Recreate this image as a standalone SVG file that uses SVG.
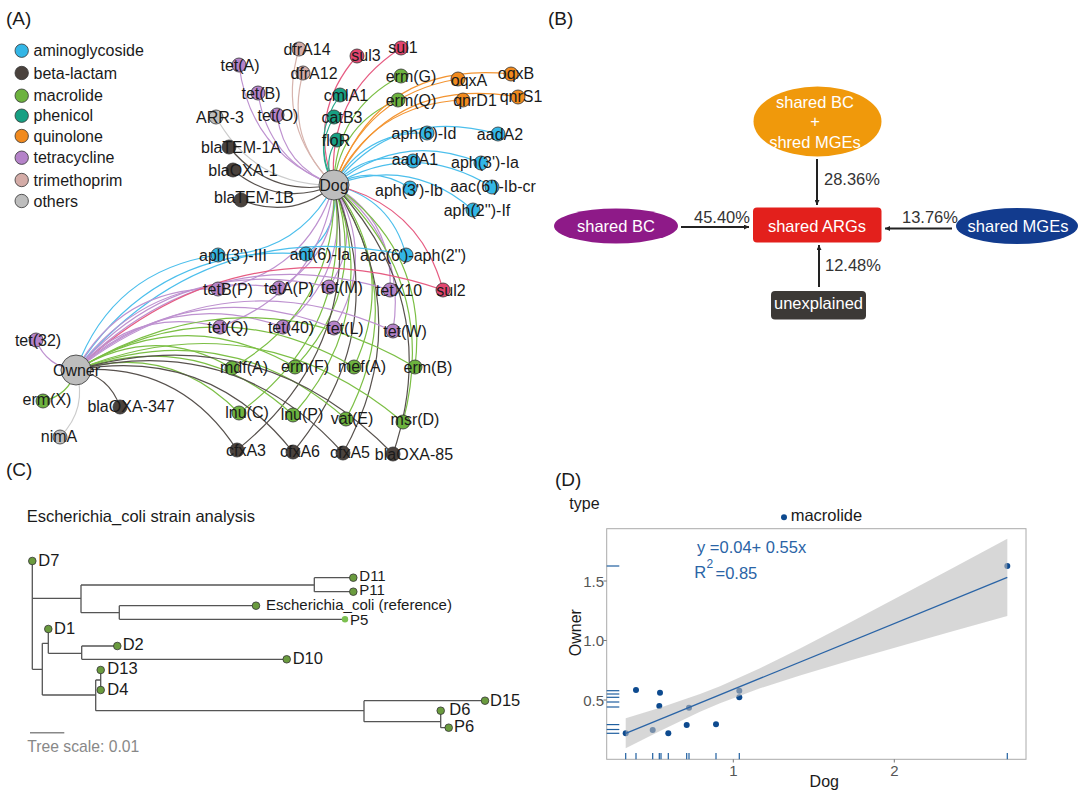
<svg xmlns="http://www.w3.org/2000/svg" width="1080" height="794" viewBox="0 0 1080 794">
<defs>
<style>
text{font-family:"Liberation Sans",Arial,sans-serif;fill:#1a1a1a}
.pl{font-size:19px}
.lg{font-size:16px}
.nl{font-size:16px;text-anchor:middle}
.hub{font-size:16px;text-anchor:middle}
.e{fill:none;stroke-width:1.2}
.am{stroke:#4cbfec}.be{stroke:#57514d}.ma{stroke:#7cbf45}.ph{stroke:#2aa98c}.qu{stroke:#f39431}.te{stroke:#be92d0}.tm{stroke:#d7b4ae}.ot{stroke:#cccccc}.su{stroke:#e65c82}
.n{stroke:#333;stroke-width:0.8}
.fam{fill:#33b6e6}.fbe{fill:#4a423d}.fma{fill:#6db33f}.fph{fill:#17a083}.fqu{fill:#f18a1e}.fte{fill:#b583c9}.ftm{fill:#d4aca7}.fot{fill:#bdbdbd}.fsu{fill:#e2466f}
.bw{fill:#fff;font-size:16.5px;text-anchor:middle}
.pct{font-size:16.5px;fill:#333}
.bl{stroke:#222;stroke-width:2;fill:none}
.tr{fill:none;stroke:#555;stroke-width:1.3}
.tn{fill:#6a9b3e;stroke:#333;stroke-width:0.8}
.tl{font-size:16.5px}
.ts{font-size:15px}
.ax{font-size:15px;fill:#555}
.rug{stroke:#1f5fa0;stroke-width:1.2}
.pt{fill:#0d4a8f}
</style>
<marker id="arr" viewBox="0 0 6 6" refX="6" refY="3" markerWidth="5" markerHeight="5" markerUnits="userSpaceOnUse" orient="auto"><path d="M0,0 L6,3 L0,6 z" fill="#222"/></marker>
</defs>
<rect width="1080" height="794" fill="#fff"/>

<!-- Panel labels -->
<text class="pl" x="6" y="25">(A)</text>
<text class="pl" x="548" y="25">(B)</text>
<text class="pl" x="6" y="476">(C)</text>
<text class="pl" x="555" y="486">(D)</text>

<!-- Legend -->
<g id="legend">
<circle class="n fam" cx="21.7" cy="50.7" r="6.7"/><text class="lg" x="33.5" y="56.2">aminoglycoside</text>
<circle class="n fbe" cx="21.7" cy="73" r="6.7"/><text class="lg" x="33.5" y="78.5">beta-lactam</text>
<circle class="n fma" cx="21.7" cy="95.7" r="6.7"/><text class="lg" x="33.5" y="101.2">macrolide</text>
<circle class="n fph" cx="21.7" cy="115.7" r="6.7"/><text class="lg" x="33.5" y="121.2">phenicol</text>
<circle class="n fqu" cx="21.7" cy="136" r="6.7"/><text class="lg" x="33.5" y="141.5">quinolone</text>
<circle class="n fte" cx="21.7" cy="157.7" r="6.7"/><text class="lg" x="33.5" y="163.2">tetracycline</text>
<circle class="n ftm" cx="21.7" cy="180" r="6.7"/><text class="lg" x="33.5" y="185.5">trimethoprim</text>
<circle class="n fot" cx="21.7" cy="201" r="6.7"/><text class="lg" x="33.5" y="206.5">others</text>
</g>

<!-- Network connectors -->
<g id="connectors">
<path class="e te" d="M334 185 Q250.5 153.5 239 65"/>
<path class="e te" d="M334 185 Q268.4 161.8 258 93"/>
<path class="e te" d="M334 185 Q284.5 167.1 277 115"/>
<path class="e ot" d="M334 185 Q254.6 186.4 216 117"/>
<path class="e tm" d="M334 185 Q275.7 127.5 299 49"/>
<path class="e tm" d="M334 185 Q284.9 138.3 303 73"/>
<path class="e su" d="M334 185 Q306.8 113.6 357 56"/>
<path class="e su" d="M334 185 Q326.4 96.4 401 48"/>
<path class="e ph" d="M334 185 Q310 138.2 340 95"/>
<path class="e ph" d="M334 185 Q313.6 151 334 117"/>
<path class="e ph" d="M334 185 Q322 161.6 337 140"/>
<path class="e be" d="M334 185 Q270.1 197.5 229 147"/>
<path class="e be" d="M334 185 Q279 207.8 233 170"/>
<path class="e be" d="M334 185 Q292 220.4 241 200"/>
<path class="e ma" d="M334 185 Q334.8 110.4 401 76"/>
<path class="e ma" d="M334 185 Q340.5 123.3 398 100"/>
<path class="e qu" d="M334 185 Q364.2 94.8 458 79"/>
<path class="e qu" d="M334 185 Q378 60 511 74"/>
<path class="e qu" d="M334 185 Q373 103.8 463 100"/>
<path class="e qu" d="M334 185 Q392 75 518 97"/>
<path class="e am" d="M334 185 Q364.9 131.1 427 133"/>
<path class="e am" d="M334 185 Q395 105 498 134"/>
<path class="e am" d="M334 185 Q366.3 149.3 413 161"/>
<path class="e am" d="M334 185 Q400.9 129.9 481 163"/>
<path class="e am" d="M334 185 Q372.9 163.7 410 188"/>
<path class="e am" d="M334 185 Q413.6 138.6 492 187"/>
<path class="e am" d="M334 185 Q411 155.8 473 210"/>
<!-- Dog to lower cluster -->
<path class="e am" d="M334 185 Q297 254.8 218 255"/>
<path class="e am" d="M334 185 Q340.7 227.9 306 254"/>
<path class="e am" d="M334 185 Q391 198.4 406 255"/>
<path class="e te" d="M334 185 Q307.2 271.8 218 289"/>
<path class="e te" d="M334 185 Q337.4 253 279 288"/>
<path class="e te" d="M334 185 Q362.1 237.5 329 287"/>
<path class="e te" d="M334 185 Q393.5 220.7 390 290"/>
<path class="e su" d="M334 185 Q420 204.8 443 290"/>
<path class="e te" d="M334 185 Q319.6 290.2 220 327"/>
<path class="e te" d="M334 185 Q351.1 271.3 283 327"/>
<path class="e te" d="M334 185 Q376.9 256.5 334 328"/>
<path class="e te" d="M334 185 Q407.3 240.3 393 331"/>
<path class="e ma" d="M334 185 Q337.9 307.1 232 368"/>
<path class="e ma" d="M334 185 Q369.1 287.7 295 367"/>
<path class="e ma" d="M334 185 Q398.6 270 354 367"/>
<path class="e ma" d="M334 185 Q429.1 251.7 415 367"/>
<path class="e ma" d="M334 185 Q354.9 327.5 239 413"/>
<path class="e ma" d="M334 185 Q382.5 312.3 293 415"/>
<path class="e ma" d="M334 185 Q410.2 298.4 346 419"/>
<path class="e ma" d="M334 185 Q439.6 282.8 403 422"/>
<path class="e be" d="M334 185 Q365 346.6 237 450"/>
<path class="e be" d="M334 185 Q393.6 330.8 293 452"/>
<path class="e be" d="M334 185 Q418.9 316.3 343 453"/>
<path class="e be" d="M334 185 Q444.2 301.8 393 454"/>
<!-- Owner edges -->
<path class="e am" d="M76 370 Q112.5 269.9 218 255"/>
<path class="e am" d="M76 370 Q156.2 243 306 254"/>
<path class="e am" d="M76 370 Q206.5 213.5 406 255"/>
<path class="e te" d="M76 370 Q122.7 286.9 218 289"/>
<path class="e te" d="M76 370 Q152.9 268.1 279 288"/>
<path class="e te" d="M76 370 Q177.6 252.6 329 287"/>
<path class="e te" d="M76 370 Q209 235.8 390 290"/>
<path class="e su" d="M76 370 Q235.5 219.9 443 290"/>
<path class="e te" d="M76 370 Q135.1 305.3 220 327"/>
<path class="e te" d="M76 370 Q166.6 286.4 283 327"/>
<path class="e te" d="M76 370 Q192.4 271.6 334 328"/>
<path class="e te" d="M76 370 Q222.8 255.4 393 331"/>
<path class="e ma" d="M76 370 Q153.4 322.2 232 368"/>
<path class="e ma" d="M76 370 Q184.6 302.8 295 367"/>
<path class="e ma" d="M76 370 Q214.1 285.1 354 367"/>
<path class="e ma" d="M76 370 Q244.6 266.8 415 367"/>
<path class="e ma" d="M76 370 Q170.4 342.6 239 413"/>
<path class="e ma" d="M76 370 Q198 327.4 293 415"/>
<path class="e ma" d="M76 370 Q225.7 313.5 346 419"/>
<path class="e ma" d="M76 370 Q255.1 297.9 403 422"/>
<path class="e be" d="M76 370 Q180.5 361.7 237 450"/>
<path class="e be" d="M76 370 Q209.1 345.9 293 452"/>
<path class="e be" d="M76 370 Q234.4 331.4 343 453"/>
<path class="e be" d="M76 370 Q259.7 316.9 393 454"/>
<path class="e te" d="M76 370 Q47 367 36 340"/>
<path class="e ma" d="M76 370 Q68.8 395.4 43 401"/>
<path class="e be" d="M76 370 Q109.1 375.3 120 407"/>
<path class="e ot" d="M76 370 Q88.1 408.3 60 437"/>
</g>

<!-- Hub nodes -->
<g id="node-dog"><circle class="n fot" cx="334" cy="185" r="15"/><text class="hub" x="334" y="190.5">Dog</text></g>
<g id="node-owner"><circle class="n fot" cx="76" cy="370" r="15"/><text class="hub" x="76.5" y="375.5">Owner</text></g>

<!-- Gene nodes (Dog-only) -->
<g id="g-tetA"><circle class="n fte" cx="239" cy="65" r="7"/><text class="nl" x="240" y="70.5">tet(A)</text></g>
<g id="g-tetB"><circle class="n fte" cx="258" cy="93" r="7"/><text class="nl" x="261" y="98.5">tet(B)</text></g>
<g id="g-tetO"><circle class="n fte" cx="277" cy="115" r="7"/><text class="nl" x="278" y="120.5">tet(O)</text></g>
<g id="g-arr3"><circle class="n fot" cx="216" cy="117" r="7"/><text class="nl" x="220" y="122.5">ARR-3</text></g>
<g id="g-dfrA14"><circle class="n ftm" cx="299" cy="49" r="7"/><text class="nl" x="307" y="54.5">dfrA14</text></g>
<g id="g-dfrA12"><circle class="n ftm" cx="303" cy="73" r="7"/><text class="nl" x="314" y="78.5">dfrA12</text></g>
<g id="g-sul3"><circle class="n fsu" cx="357" cy="56" r="7"/><text class="nl" x="366" y="61">sul3</text></g>
<g id="g-sul1"><circle class="n fsu" cx="401" cy="48" r="7"/><text class="nl" x="403" y="53">sul1</text></g>
<g id="g-cmlA1"><circle class="n fph" cx="340" cy="95" r="7"/><text class="nl" x="346" y="100.5">cmlA1</text></g>
<g id="g-catB3"><circle class="n fph" cx="334" cy="117" r="7"/><text class="nl" x="342" y="122.5">catB3</text></g>
<g id="g-floR"><circle class="n fph" cx="337" cy="140" r="7"/><text class="nl" x="336" y="145.5">floR</text></g>
<g id="g-blaTEM1A"><circle class="n fbe" cx="229" cy="147" r="7"/><text class="nl" x="241" y="152.5">blaTEM-1A</text></g>
<g id="g-blaOXA1"><circle class="n fbe" cx="233" cy="170" r="7"/><text class="nl" x="243" y="175.5">blaOXA-1</text></g>
<g id="g-blaTEM1B"><circle class="n fbe" cx="241" cy="200" r="7"/><text class="nl" x="254" y="202.5">blaTEM-1B</text></g>
<g id="g-ermG"><circle class="n fma" cx="401" cy="76" r="7"/><text class="nl" x="411" y="81.5">erm(G)</text></g>
<g id="g-ermQ"><circle class="n fma" cx="398" cy="100" r="7"/><text class="nl" x="411" y="105.5">erm(Q)</text></g>
<g id="g-oqxA"><circle class="n fqu" cx="458" cy="79" r="7"/><text class="nl" x="469" y="85.5">oqxA</text></g>
<g id="g-oqxB"><circle class="n fqu" cx="511" cy="74" r="7"/><text class="nl" x="516" y="79">oqxB</text></g>
<g id="g-qnrD1"><circle class="n fqu" cx="463" cy="100" r="7"/><text class="nl" x="475" y="105.5">qnrD1</text></g>
<g id="g-qnrS1"><circle class="n fqu" cx="518" cy="97" r="7"/><text class="nl" x="521" y="102.2">qnrS1</text></g>
<g id="g-aph6Id"><circle class="n fam" cx="427" cy="133" r="7"/><text class="nl" x="424" y="138.5">aph(6)-Id</text></g>
<g id="g-aadA2"><circle class="n fam" cx="498" cy="134" r="7"/><text class="nl" x="500" y="139.5">aadA2</text></g>
<g id="g-aadA1"><circle class="n fam" cx="413" cy="161" r="7"/><text class="nl" x="415" y="165">aadA1</text></g>
<g id="g-aph3Ia"><circle class="n fam" cx="481" cy="163" r="7"/><text class="nl" x="485" y="167.5">aph(3')-Ia</text></g>
<g id="g-aph3Ib"><circle class="n fam" cx="410" cy="188" r="7"/><text class="nl" x="409" y="195.5">aph(3')-Ib</text></g>
<g id="g-aac6Ibcr"><circle class="n fam" cx="492" cy="187" r="7"/><text class="nl" x="493" y="191.5">aac(6')-Ib-cr</text></g>
<g id="g-aph2If"><circle class="n fam" cx="473" cy="210" r="7"/><text class="nl" x="477" y="215.5">aph(2'')-If</text></g>

<!-- Shared genes -->
<g id="g-aph3III"><circle class="n fam" cx="218" cy="255" r="7"/><text class="nl" x="233" y="260.5">aph(3')-III</text></g>
<g id="g-ant6Ia"><circle class="n fam" cx="306" cy="254" r="7"/><text class="nl" x="320" y="259.5">ant(6)-Ia</text></g>
<g id="g-aac6aph2"><circle class="n fam" cx="406" cy="255" r="7"/><text class="nl" x="413" y="260.5">aac(6')-aph(2'')</text></g>
<g id="g-tetBP"><circle class="n fte" cx="218" cy="289" r="7"/><text class="nl" x="228" y="294.5">tetB(P)</text></g>
<g id="g-tetAP"><circle class="n fte" cx="279" cy="288" r="7"/><text class="nl" x="289" y="293.5">tetA(P)</text></g>
<g id="g-tetM"><circle class="n fte" cx="329" cy="287" r="7"/><text class="nl" x="342" y="292.5">tet(M)</text></g>
<g id="g-tetX10"><circle class="n fte" cx="390" cy="290" r="7"/><text class="nl" x="399" y="295.5">tetX10</text></g>
<g id="g-sul2"><circle class="n fsu" cx="443" cy="290" r="7"/><text class="nl" x="451" y="295.5">sul2</text></g>
<g id="g-tetQ"><circle class="n fte" cx="220" cy="327" r="7"/><text class="nl" x="228" y="332.5">tet(Q)</text></g>
<g id="g-tet40"><circle class="n fte" cx="283" cy="327" r="7"/><text class="nl" x="291" y="332.5">tet(40)</text></g>
<g id="g-tetL"><circle class="n fte" cx="334" cy="328" r="7"/><text class="nl" x="345" y="333.5">tet(L)</text></g>
<g id="g-tetW"><circle class="n fte" cx="393" cy="331" r="7"/><text class="nl" x="405" y="336.5">tet(W)</text></g>
<g id="g-mdfA"><circle class="n fma" cx="232" cy="368" r="7"/><text class="nl" x="244" y="372.5">mdf(A)</text></g>
<g id="g-ermF"><circle class="n fma" cx="295" cy="367" r="7"/><text class="nl" x="305" y="372">erm(F)</text></g>
<g id="g-mefA"><circle class="n fma" cx="354" cy="367" r="7"/><text class="nl" x="362" y="372">mef(A)</text></g>
<g id="g-ermB"><circle class="n fma" cx="415" cy="367" r="7"/><text class="nl" x="428" y="372.5">erm(B)</text></g>
<g id="g-lnuC"><circle class="n fma" cx="239" cy="413" r="7"/><text class="nl" x="247" y="418">lnu(C)</text></g>
<g id="g-lnuP"><circle class="n fma" cx="293" cy="415" r="7"/><text class="nl" x="302" y="419.5">lnu(P)</text></g>
<g id="g-vatE"><circle class="n fma" cx="346" cy="419" r="7"/><text class="nl" x="352" y="424">vat(E)</text></g>
<g id="g-msrD"><circle class="n fma" cx="403" cy="422" r="7"/><text class="nl" x="415" y="424.5">msr(D)</text></g>
<g id="g-cfxA3"><circle class="n fbe" cx="237" cy="450" r="7"/><text class="nl" x="246" y="455.5">cfxA3</text></g>
<g id="g-cfxA6"><circle class="n fbe" cx="293" cy="452" r="7"/><text class="nl" x="300" y="457">cfxA6</text></g>
<g id="g-cfxA5"><circle class="n fbe" cx="343" cy="453" r="7"/><text class="nl" x="350" y="458">cfxA5</text></g>
<g id="g-blaOXA85"><circle class="n fbe" cx="393" cy="454" r="7"/><text class="nl" x="414" y="459.5">blaOXA-85</text></g>

<!-- Owner-only -->
<g id="g-tet32"><circle class="n fte" cx="36" cy="340" r="7"/><text class="nl" x="38" y="345.5">tet(32)</text></g>
<g id="g-ermX"><circle class="n fma" cx="43" cy="401" r="7"/><text class="nl" x="47" y="404.5">erm(X)</text></g>
<g id="g-blaOXA347"><circle class="n fbe" cx="120" cy="407" r="7"/><text class="nl" x="131" y="412">blaOXA-347</text></g>
<g id="g-nimA"><circle class="n fot" cx="60" cy="437" r="7"/><text class="nl" x="59" y="442">nimA</text></g>

<!-- Panel B -->
<g id="b-connectors">
<line class="bl" x1="817" y1="159" x2="817" y2="205" marker-end="url(#arr)"/>
<line class="bl" x1="681" y1="227" x2="749" y2="227" marker-end="url(#arr)"/>
<line class="bl" x1="952" y1="228.5" x2="885" y2="228.5" marker-end="url(#arr)"/>
<line class="bl" x1="819" y1="287" x2="819" y2="245" marker-end="url(#arr)"/>
</g>
<g id="b-both"><ellipse cx="817.5" cy="121.5" rx="64" ry="35" fill="#f0990b"/>
<text class="bw" x="815" y="107.5">shared BC</text><text class="bw" x="815" y="126.5">+</text><text class="bw" x="815" y="147.5">shred MGEs</text></g>
<g id="b-args"><rect x="753" y="207.5" width="128.5" height="35" rx="4" fill="#e3201c"/><text class="bw" x="817" y="231.5">shared ARGs</text></g>
<g id="b-bc"><ellipse cx="616" cy="226" rx="62" ry="17.5" fill="#8e1a88"/><text class="bw" x="616" y="232">shared BC</text></g>
<g id="b-mge"><ellipse cx="1017" cy="226" rx="61" ry="18" fill="#123b8e"/><text class="bw" x="1018" y="232">shared MGEs</text></g>
<g id="b-unexp"><rect x="771" y="291" width="95" height="28.5" rx="4" fill="#3c3936"/><text class="bw" x="818.5" y="309">unexplained</text></g>
<text class="pct" x="824" y="185">28.36%</text>
<text class="pct" x="694" y="222.5">45.40%</text>
<text class="pct" x="902" y="222.5">13.76%</text>
<text class="pct" x="825" y="271">12.48%</text>

<!-- Panel C -->
<g id="tree">
<text class="tl" x="26.7" y="522">Escherichia_coli strain analysis</text>
<path class="tr" d="M32.3 561V669.3 M32.3 598.3H81 M81 585V612.7 M81 585H314.3 M314.3 577.7V591.7 M314.3 577.7H353.3 M314.3 591.7H353.3 M81 612.7H119.3 M119.3 605.7V619.3 M119.3 605.7H256 M119.3 619.3H345 M32.3 669.3H42.3 M42.3 643.3V695 M42.3 643.3H48.3 M48.3 629V653.3 M48.3 653.3H81.7 M81.7 646V659.3 M81.7 646H117.3 M81.7 659.3H286.7 M42.3 695H95.7 M95.7 680V710.7 M95.7 680H100.7 M100.7 670V690 M95.7 710.7H364 M364 700.7V721.7 M364 700.7H485 M364 721.7H440.7 M440.7 710.7V727.7 M440.7 727.7H448.7"/>
<circle class="tn" cx="32.3" cy="561" r="3.8"/><text class="tl" x="38.3" y="565.8">D7</text>
<circle class="tn" cx="353.3" cy="577.7" r="3.8"/><text class="ts" x="359.3" y="580.5">D11</text>
<circle class="tn" cx="353.3" cy="591.7" r="3.8"/><text class="ts" x="359.3" y="595">P11</text>
<circle class="tn" cx="256" cy="605.7" r="3.8"/><text class="ts" x="266" y="610">Escherichia_coli (reference)</text>
<circle cx="345" cy="619.3" r="3.2" fill="#7cc050"/><text class="ts" x="350" y="625">P5</text>
<circle class="tn" cx="48.3" cy="629" r="3.8"/><text class="tl" x="54" y="633.5">D1</text>
<circle class="tn" cx="117.3" cy="646" r="3.8"/><text class="tl" x="122.7" y="649.8">D2</text>
<circle class="tn" cx="286.7" cy="659.3" r="3.8"/><text class="tl" x="292.7" y="664.2">D10</text>
<circle class="tn" cx="100.7" cy="670" r="3.8"/><text class="tl" x="107.3" y="674.2">D13</text>
<circle class="tn" cx="100.7" cy="690" r="3.8"/><text class="tl" x="107.3" y="694.8">D4</text>
<circle class="tn" cx="485" cy="700.7" r="3.8"/><text class="tl" x="490" y="705.8">D15</text>
<circle class="tn" cx="440.7" cy="710.7" r="3.8"/><text class="tl" x="449.3" y="715.2">D6</text>
<circle class="tn" cx="448.7" cy="727.7" r="3.8"/><text class="tl" x="454" y="731.5">P6</text>
<line x1="30" y1="732.7" x2="64.3" y2="732.7" stroke="#888" stroke-width="1.5"/>
<text x="27.3" y="751.8" style="font-size:15.7px;fill:#888">Tree scale: 0.01</text>
</g>

<!-- Panel D -->
<g id="scatter">
<text x="569.3" y="508.5" style="font-size:16px">type</text>
<circle cx="784" cy="517.3" r="3" class="pt"/><text x="790.7" y="520.8" style="font-size:16.5px">macrolide</text>
<rect x="606.7" y="528.7" width="419.3" height="230.6" fill="#fff" stroke="#aaa" stroke-width="1"/>
<circle class="pt" cx="625.7" cy="733.3" r="3"/>
<circle class="pt" cx="636" cy="690" r="3"/>
<circle class="pt" cx="652.7" cy="730" r="3"/>
<circle class="pt" cx="659.3" cy="706" r="3"/>
<circle class="pt" cx="660" cy="692.7" r="3"/>
<circle class="pt" cx="668.3" cy="733.3" r="3"/>
<circle class="pt" cx="686.7" cy="725" r="3"/>
<circle class="pt" cx="689" cy="707.7" r="3"/>
<circle class="pt" cx="716" cy="724.3" r="3"/>
<circle class="pt" cx="739.3" cy="690.7" r="3"/>
<circle class="pt" cx="739.3" cy="697.3" r="3"/>
<circle class="pt" cx="1007.3" cy="566" r="3"/>
<path d="M625.7 718.3 L660 707.7 L700 694 L720 686.2 L760 668.3 L800 648.5 L850 622.6 L900 596 L950 569.4 L1007.3 538.7 L1007.3 615.9 L950 632 L900 646.2 L850 660.6 L800 675.5 L760 688.3 L720 703.2 L700 711.8 L660 730.9 L625.7 748.3 Z" fill="#bdbdbd" fill-opacity="0.6"/>
<line x1="625.7" y1="733.3" x2="1007.3" y2="577.3" stroke="#2a64a6" stroke-width="1.3"/>
<g class="rug">
<line x1="625.7" y1="753" x2="625.7" y2="759.3"/><line x1="636" y1="753" x2="636" y2="759.3"/><line x1="652.7" y1="753" x2="652.7" y2="759.3"/><line x1="659.3" y1="753" x2="659.3" y2="759.3"/><line x1="661" y1="753" x2="661" y2="759.3"/><line x1="668.3" y1="753" x2="668.3" y2="759.3"/><line x1="686.7" y1="753" x2="686.7" y2="759.3"/><line x1="689" y1="753" x2="689" y2="759.3"/><line x1="716" y1="753" x2="716" y2="759.3"/><line x1="739.3" y1="753" x2="739.3" y2="759.3"/><line x1="1007.3" y1="753" x2="1007.3" y2="759.3"/>
<line x1="606.7" y1="566" x2="619.3" y2="566"/><line x1="606.7" y1="690.7" x2="619.3" y2="690.7"/><line x1="606.7" y1="694" x2="619.3" y2="694"/><line x1="606.7" y1="697.3" x2="619.3" y2="697.3"/><line x1="606.7" y1="702" x2="619.3" y2="702"/><line x1="606.7" y1="707" x2="619.3" y2="707"/><line x1="606.7" y1="724.6" x2="619.3" y2="724.6"/><line x1="606.7" y1="729.5" x2="619.3" y2="729.5"/><line x1="606.7" y1="733.3" x2="619.3" y2="733.3"/>
</g>
<g stroke="#777" stroke-width="1">
<line x1="603.5" y1="581" x2="606.7" y2="581"/><line x1="603.5" y1="640.5" x2="606.7" y2="640.5"/><line x1="603.5" y1="700" x2="606.7" y2="700"/>
<line x1="733.3" y1="759.3" x2="733.3" y2="762.5"/><line x1="894.3" y1="759.3" x2="894.3" y2="762.5"/>
</g>
<text class="ax" x="604" y="586.5" text-anchor="end">1.5</text>
<text class="ax" x="604" y="646" text-anchor="end">1.0</text>
<text class="ax" x="604" y="705.5" text-anchor="end">0.5</text>
<text class="ax" x="733.3" y="776" text-anchor="middle">1</text>
<text class="ax" x="894.3" y="776" text-anchor="middle">2</text>
<text x="824.3" y="786.5" text-anchor="middle" style="font-size:16px">Dog</text>
<text transform="translate(581,632.7) rotate(-90)" text-anchor="middle" style="font-size:16px">Owner</text>
<text x="697" y="552.5" style="font-size:16.5px;fill:#2a64a6">y =0.04+ 0.55x</text>
<text x="694.3" y="577.5" style="font-size:16.5px;fill:#2a64a6">R</text>
<text x="706.5" y="568" style="font-size:12px;fill:#2a64a6">2</text>
<text x="715.5" y="579" style="font-size:16.5px;fill:#2a64a6">=0.85</text>
</g>
</svg>
